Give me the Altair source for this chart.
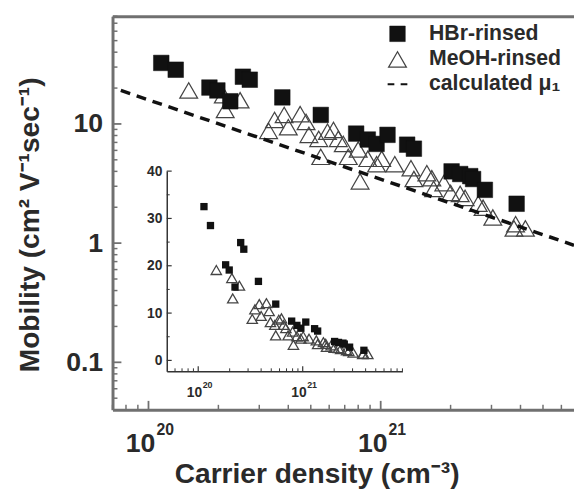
import altair as alt
import pandas as pd
import numpy as np

# ---------------- data ----------------
hbr_density = [1.135e20, 1.31e20, 1.83e20, 1.98e20, 2.25e20, 2.55e20, 2.73e20, 3.77e20, 5.52e20,
               7.84e20, 8.8e20, 9.6e20, 1.07e21, 1.30e21, 1.39e21, 2.02e21, 2.20e21, 2.43e21,
               2.50e21, 2.81e21, 3.85e21]
hbr_mobility = [32.5, 28.5, 20.2, 19.1, 15.5, 24.9, 23.5, 16.7, 11.9,
                8.3, 7.4, 6.8, 8.1, 6.7, 6.2, 4.0, 3.8, 3.65,
                3.45, 2.8, 2.14]

meoh_density = [1.49e20, 2.10e20, 2.14e20, 2.48e20, 3.29e20, 3.49e20, 3.84e20, 4.0e20, 4.5e20,
                4.77e20, 4.91e20, 5.41e20, 5.52e20, 5.9e20, 6.26e20, 6.57e20, 6.9e20, 7.25e20,
                8.0e20, 8.15e20, 8.8e20, 9.6e20, 1.01e21, 1.15e21, 1.35e21, 1.39e21, 1.58e21,
                1.66e21, 1.69e21, 1.87e21, 2.0e21, 2.2e21, 2.31e21, 2.63e21, 2.76e21, 3.04e21,
                3.81e21, 4.2e21, 3.75e21]
meoh_mobility = [19.1, 17.4, 13.1, 15.8, 8.75, 10.8, 11.9, 9.4, 12.1,
                 10.4, 8.1, 7.5, 5.3, 8.6, 8.9, 7.5, 6.8, 5.3,
                 6.1, 3.3, 5.1, 4.6, 5.1, 4.6, 4.25, 3.45, 3.86,
                 3.5, 2.85, 3.19, 2.64, 2.59, 2.4, 2.14, 1.98, 1.64,
                 1.44, 1.33, 1.33]

calc_density = [7.6e19, 6.8e21]
calc_mobility = [19.1, 0.96]

series_names = ["HBr-rinsed", "MeOH-rinsed", "calculated μ₁"]

# axis ticks
x_major = [1e20, 1e21]
x_minor = [7e19, 8e19, 9e19, 2e20, 3e20, 4e20, 5e20, 6e20, 7e20, 8e20, 9e20,
           2e21, 3e21, 4e21, 5e21, 6e21]
y_major = [0.1, 1, 10]
y_minor = [0.05, 0.06, 0.07, 0.08, 0.09, 0.2, 0.3, 0.4, 0.5, 0.6, 0.7, 0.8, 0.9,
           2, 3, 4, 5, 6, 7, 8, 9, 20, 30, 40, 50, 60, 70, 80]
inset_x_major = [1e20, 1e21]
inset_x_minor = [6e19, 7e19, 8e19, 9e19, 2e20, 3e20, 4e20, 5e20, 6e20, 7e20, 8e20, 9e20,
                 2e21, 3e21, 4e21, 5e21, 6e21, 7e21, 8e21, 9e21]
inset_y_major = [0, 10, 20, 30, 40]
inset_y_minor = [5, 15, 25, 35]

# ---------------- layout / style ----------------
W, H = 468, 399
FONT = "Liberation Sans"
TXT = "#2a2a2a"
AX = "#707070"
AXI = "#333333"
IN_X0, IN_Y0 = 55, 360   # inset axes origin inside the view (px)

XM = alt.Scale(type="log", domain=[7e19, 6.8e21], nice=False)
YM = alt.Scale(type="log", domain=[0.04, 80], nice=False)
XI = alt.Scale(type="log", domain=[5e19, 9e21], range=[IN_X0, 294], nice=False)
YI = alt.Scale(type="linear", domain=[-2.3, 40], range=[IN_Y0, 157], nice=False, zero=False)

hbr = pd.DataFrame({"density": hbr_density, "mobility": hbr_mobility, "series": series_names[0]})
meoh = pd.DataFrame({"density": meoh_density, "mobility": meoh_mobility, "series": series_names[1]})
calc = pd.DataFrame({"density": calc_density, "mobility": calc_mobility})
pts = pd.concat([hbr, meoh], ignore_index=True)

xlab = pd.DataFrame({"density": x_major, "base": ["10"] * len(x_major),
                     "exp": [str(int(round(np.log10(v)))) for v in x_major]})
xlab_in = pd.DataFrame({"density": inset_x_major, "base": ["10"] * len(inset_x_major),
                        "exp": [str(int(round(np.log10(v)))) for v in inset_x_major]})

def noaxis(ch, scale, field):
    return ch(field, scale=scale, axis=None)

base = alt.Chart(pts)

# main frame: domains, y labels, titles
frame_main = base.mark_point(opacity=0).encode(
    x=alt.X("density:Q", scale=XM, axis=alt.Axis(
        orient="bottom", values=x_major, labels=False, ticks=False, grid=False,
        domain=True, domainColor=AX, domainWidth=3,
        title="Carrier density (cm⁻³)", titleX=207, titleY=74, titleAlign="center",
        titleBaseline="alphabetic", titleAngle=0, titleFont=FONT, titleFontSize=28.5,
        titleFontWeight="bold", titleColor=TXT)),
    y=alt.Y("mobility:Q", scale=YM, axis=alt.Axis(
        orient="left", values=y_major, format="~g", ticks=False, grid=False,
        labelPadding=10, labelFont=FONT, labelFontSize=27, labelFontWeight="bold",
        labelColor=TXT, labelFlush=False, labelOverlap=False,
        domain=True, domainColor=AX, domainWidth=3,
        title="Mobility (cm² V⁻¹sec⁻¹)", titleX=-84, titleY=211, titleAngle=270,
        titleAlign="center", titleBaseline="middle", titleFont=FONT, titleFontSize=28.5,
        titleFontWeight="bold", titleColor=TXT)),
)

top_border = base.mark_point(opacity=0).encode(
    x=alt.X("density:Q", scale=XM, axis=alt.Axis(
        orient="top", labels=False, ticks=False, grid=False, domain=True,
        domainColor=AX, domainWidth=3, title=None)),
    y=noaxis(alt.Y, YM, "mobility:Q"),
)

frame_inset = base.mark_point(opacity=0).encode(
    x=alt.X("density:Q", scale=XI, axis=alt.Axis(
        orient="top", offset=-IN_Y0, labels=False, ticks=False, grid=False, domain=True,
        domainColor=AXI, domainWidth=1.5, title=None)),
    y=alt.Y("mobility:Q", scale=YI, axis=alt.Axis(
        orient="left", offset=-IN_X0, values=inset_y_major, ticks=False, grid=False,
        labelPadding=5, labelFont=FONT, labelFontSize=14, labelFontWeight="bold",
        labelColor=TXT, labelFlush=False, labelOverlap=False,
        domain=True, domainColor=AXI, domainWidth=1.5, title=None)),
)

# inward tick marks drawn from the tick-value lists through the scales
def xticks(vals, scale, y0, length, color, width):
    return alt.Chart(pd.DataFrame({"v": vals})).mark_rule(color=color, strokeWidth=width).encode(
        x=alt.X("v:Q", scale=scale, axis=None), y=alt.value(y0), y2=alt.value(y0 - length))

def yticks(vals, scale, x0, length, color, width):
    return alt.Chart(pd.DataFrame({"v": vals})).mark_rule(color=color, strokeWidth=width).encode(
        y=alt.Y("v:Q", scale=scale, axis=None), x=alt.value(x0), x2=alt.value(x0 + length))

tick_layers = [
    xticks(x_major, XM, H, 9, AX, 1.8), xticks(x_minor, XM, H, 5, AX, 1.5),
    yticks(y_major, YM, 0, 9, AX, 1.8), yticks(y_minor, YM, 0, 5, AX, 1.5),
    xticks(inset_x_major, XI, IN_Y0, 5, AXI, 1.2), xticks(inset_x_minor, XI, IN_Y0, 3, AXI, 1.0),
    yticks(inset_y_major, YI, IN_X0, 5, AXI, 1.2), yticks(inset_y_minor, YI, IN_X0, 3, AXI, 1.0),
]

# legend-driving encodings
legend = alt.Legend(orient="none", legendX=278, legendY=7, title=None, padding=0,
                    labelFont=FONT, labelFontSize=21.5, labelFontWeight="bold",
                    labelColor=TXT, labelOffset=21, rowPadding=3)
DASH = "M-1,0L-0.32,0M0.32,0L1,0"
enc_series = dict(
    shape=alt.Shape("series:N", scale=alt.Scale(domain=series_names,
                    range=["square", "triangle-up", DASH]), legend=legend),
    fill=alt.Fill("series:N", scale=alt.Scale(domain=series_names,
                  range=["#111111", "transparent", "transparent"]), legend=legend),
    stroke=alt.Stroke("series:N", scale=alt.Scale(domain=series_names,
                      range=["#111111", "#444444", "#111111"]), legend=legend),
    size=alt.Size("series:N", scale=alt.Scale(domain=series_names,
                  range=[250, 400, 484]), legend=legend),
    strokeWidth=alt.StrokeWidth("series:N", scale=alt.Scale(domain=series_names,
                                range=[0.5, 2, 4]), legend=legend),
)

tri_main = alt.Chart(meoh).mark_point(opacity=1).encode(
    x=noaxis(alt.X, XM, "density:Q"), y=noaxis(alt.Y, YM, "mobility:Q"), **enc_series)
line_main = alt.Chart(calc).mark_line(color="#111111", strokeWidth=3.5, strokeDash=[10, 7]).encode(
    x=noaxis(alt.X, XM, "density:Q"), y=noaxis(alt.Y, YM, "mobility:Q"))
sq_main = alt.Chart(hbr).mark_point(opacity=1).encode(
    x=noaxis(alt.X, XM, "density:Q"), y=noaxis(alt.Y, YM, "mobility:Q"), **enc_series)

tri_in = alt.Chart(meoh).mark_point(shape="triangle-up", filled=False, size=110,
                                    strokeWidth=1.3, color="#444444", opacity=1).encode(
    x=noaxis(alt.X, XI, "density:Q"), y=noaxis(alt.Y, YI, "mobility:Q"))
sq_in = alt.Chart(hbr).mark_point(shape="square", filled=True, size=55,
                                  color="#111111", opacity=1).encode(
    x=noaxis(alt.X, XI, "density:Q"), y=noaxis(alt.Y, YI, "mobility:Q"))

def label_layers(df, scale, y_base, y_exp, fs_base, fs_exp, dxb, dxe):
    b = alt.Chart(df).mark_text(align="right", baseline="alphabetic", dx=dxb, font=FONT,
                                fontSize=fs_base, fontWeight="bold", color=TXT).encode(
        x=noaxis(alt.X, scale, "density:Q"), y=alt.value(y_base), text="base:N")
    e = alt.Chart(df).mark_text(align="left", baseline="alphabetic", dx=dxe, font=FONT,
                                fontSize=fs_exp, fontWeight="bold", color=TXT).encode(
        x=noaxis(alt.X, scale, "density:Q"), y=alt.value(y_exp), text="exp:N")
    return [b, e]

labels_main = label_layers(xlab, XM, 442, 425, 27, 16, 7, 8)
labels_in = label_layers(xlab_in, XI, 386, 377, 14, 9, 4, 4.5)

chart = alt.layer(
    frame_main, top_border, frame_inset, *tick_layers,
    tri_main, line_main, sq_main, tri_in, sq_in,
    *labels_main, *labels_in,
).resolve_scale(x="independent", y="independent").resolve_axis(
    x="independent", y="independent"
).properties(
    width=W, height=H,
    autosize=alt.AutoSizeParams(type="none"),
    padding={"left": 106, "top": 5, "right": 0, "bottom": 81},
    background="white",
).configure_view(stroke=None)

chart.save("out.html", embed_options={"renderer": "svg", "actions": False})
